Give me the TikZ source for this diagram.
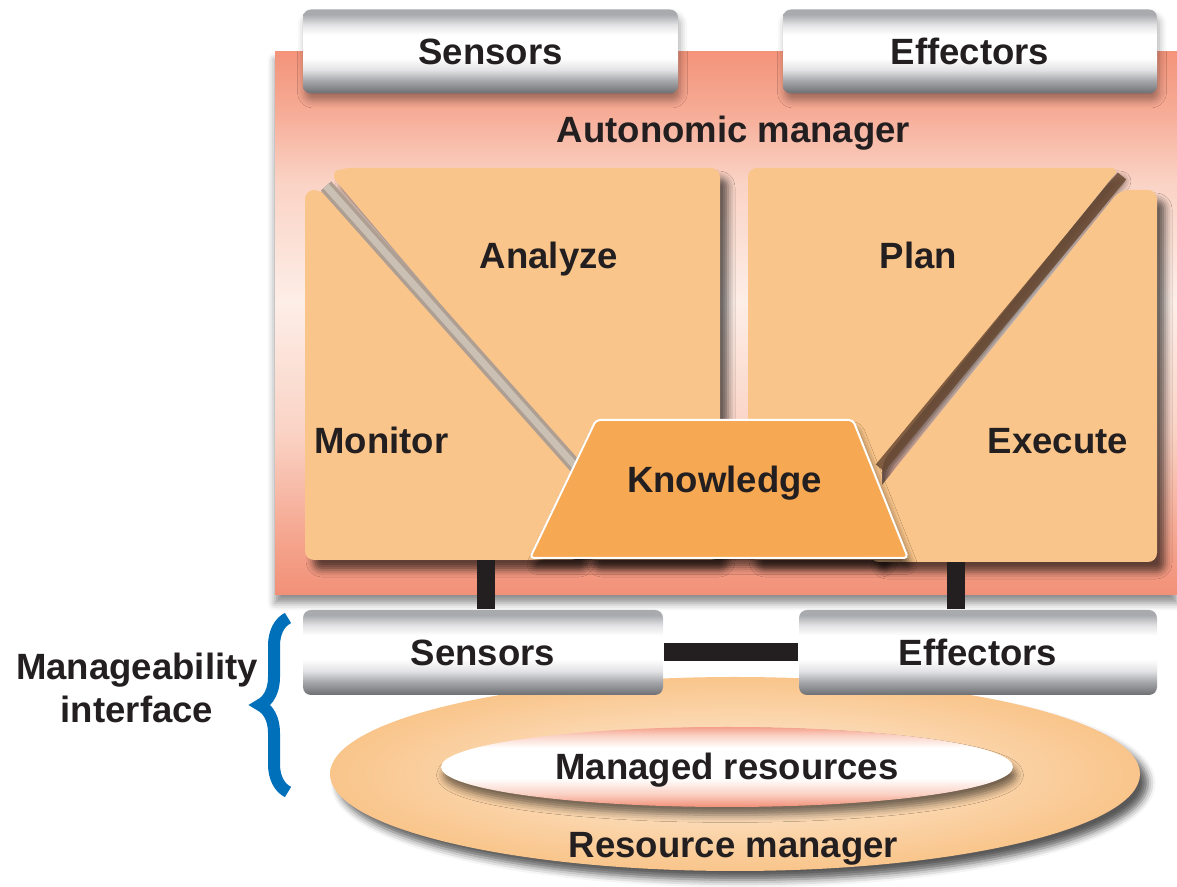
\documentclass[tikz,border=0pt]{standalone}
\usepackage{fontspec}
\setmainfont{Liberation Sans}
\usepackage{color}
\usetikzlibrary{calc,positioning,shadows,shadows.blur,shapes.geometric,decorations.pathreplacing}

\definecolor{ink}{HTML}{231F20}
\definecolor{panel}{HTML}{FAC58A}
\definecolor{knowfill}{HTML}{F6A852}
\definecolor{bandA}{HTML}{AE9F92}
\definecolor{bandB}{HTML}{CBC0B4}
\definecolor{bandC}{HTML}{6B4B34}
\definecolor{ibmblue}{HTML}{0070BA}
\definecolor{ringout}{HTML}{F9C58B}
\definecolor{ringin}{HTML}{FEEDDB}
\definecolor{metalA}{HTML}{E2E2E4}
\definecolor{metalB}{HTML}{A9AAAE}
\definecolor{metalC}{HTML}{8C8D91}
\definecolor{metalD}{HTML}{6D6E72}
\definecolor{salmonT}{HTML}{F4947B}
\definecolor{salmonB}{HTML}{F29078}
\definecolor{amtop}{HTML}{F6A993}
\definecolor{amlow}{HTML}{F5A48D}
\definecolor{ampale}{HTML}{FDEEE7}
\definecolor{amsoft}{HTML}{FAD3C5}
\definecolor{respink}{HTML}{F4A08A}
\definecolor{resmid}{HTML}{FAD0C3}

\newcommand{\amfont}{\fontsize{10.4}{12.2}\selectfont\bfseries}

\pgfdeclareverticalshading{metal}{100bp}{color(0bp)=(metalD); color(25bp)=(metalD); color(29bp)=(metalC); color(33bp)=(metalB); color(39bp)=(metalA); color(46bp)=(white); color(60bp)=(white); color(66bp)=(metalA); color(72bp)=(metalB); color(100bp)=(metalB)}
\pgfdeclareverticalshading{amback}{100bp}{color(0bp)=(salmonB); color(25bp)=(salmonB); color(30bp)=(amlow); color(40bp)=(amsoft); color(52bp)=(ampale); color(63bp)=(amsoft); color(70bp)=(amtop); color(75bp)=(salmonT); color(100bp)=(salmonT)}
\pgfdeclareverticalshading{resshade}{100bp}{color(0bp)=(salmonB); color(25bp)=(salmonB); color(33bp)=(resmid); color(43bp)=(white); color(62bp)=(white); color(70bp)=(resmid); color(75bp)=(respink); color(100bp)=(respink)}

\begin{document}
\begin{tikzpicture}[thick,node distance=4.795cm,
		box node/.style={rectangle,rounded corners=0.08cm,shading=metal,minimum width=3.75cm,minimum height=0.84cm,font=\amfont,text=ink,text height=7.4pt,text depth=0pt},
		text node/.style={font=\amfont,text=ink,inner sep=0pt,text height=7.4pt,text depth=0pt},
		panel fill/.style={fill=panel,rounded corners=0.09cm,blur shadow={shadow xshift=0.08cm,shadow yshift=-0.10cm,shadow blur radius=0.07cm,shadow opacity=60}},
		bar line/.style={-,line width=0.18cm,draw=ink}]
	\useasboundingbox (0,0) rectangle (11.77,-8.87);

	% autonomic manager
	\shade[shading=amback,blur shadow={shadow xshift=0cm,shadow yshift=-0.08cm,shadow opacity=45}] (2.75,-0.52) rectangle (11.77,-5.95);
	\node[box node,blur shadow={shadow xshift=0.02cm,shadow yshift=-0.07cm,shadow opacity=35}] (1) at (4.905,-0.515) {Sensors};
	\node[box node,minimum width=3.74cm,blur shadow={shadow xshift=0.02cm,shadow yshift=-0.07cm,shadow opacity=35}] (2) [right of = 1] {Effectors};
	\node[text node] (3) at (7.335,-1.30) {Autonomic manager};

	% monitor / analyze
	\fill[panel fill] (3.30,-1.74) -- (3.42,-1.68) -- (7.20,-1.68) -- (7.20,-5.60) -- (5.85,-5.60) -- (5.85,-4.74) -- cycle;
	\fill[panel fill] (3.05,-1.90) -- (3.22,-1.90) -- (5.80,-4.80) -- (5.80,-5.60) -- (3.05,-5.60) -- cycle;
	\draw[line width=0.14cm,draw=bandA] (3.26,-1.86) -- (5.84,-4.76);
	\draw[line width=0.07cm,draw=bandB] (3.26,-1.86) -- (5.84,-4.76);

	% plan / execute
	\fill[panel fill] (7.48,-1.68) -- (11.20,-1.68) -- (8.82,-4.62) -- (8.82,-5.60) -- (7.48,-5.60) -- cycle;
	\fill[panel fill] (11.20,-1.90) -- (11.57,-1.90) -- (11.57,-5.62) -- (8.70,-5.62) -- (8.70,-5.00) -- cycle;
	\draw[line width=0.11cm,draw=bandC,opacity=0.85] (11.22,-1.76) -- (8.80,-4.68);

	% knowledge
	\filldraw[fill=knowfill,draw=white,line width=0.02cm,rounded corners=0.04cm,blur shadow={shadow xshift=0.03cm,shadow yshift=-0.09cm,shadow opacity=60}]
		(5.30,-5.58) -- (5.96,-4.20) -- (8.53,-4.20) -- (9.08,-5.58) -- cycle;

	\node[text node] (4) at (3.815,-4.41) {Monitor};
	\node[text node] (5) at (5.49,-2.56) {Analyze};
	\node[text node] (6) at (9.185,-2.56) {Plan};
	\node[text node] (7) at (10.58,-4.41) {Execute};
	\node[text node] (8) at (7.245,-4.80) {Knowledge};

	% managed resources
	\node[ellipse,minimum width=8.10cm,minimum height=1.94cm,inner sep=0pt,inner color=ringin,outer color=ringout,
		blur shadow={shadow xshift=0.08cm,shadow yshift=-0.09cm,shadow opacity=65}] (11) at (7.35,-7.74) {};
	\node[ellipse,minimum width=5.72cm,minimum height=0.80cm,inner sep=0pt,shading=resshade,font=\amfont,text=ink,text height=7.4pt,text depth=0pt,
		blur shadow={shadow xshift=0.03cm,shadow yshift=-0.08cm,shadow opacity=55}] (12) at (7.27,-7.67) {Managed resources};
	\node[text node] (13) at (7.335,-8.45) {Resource manager};

	\node[box node,minimum width=3.60cm,minimum height=0.85cm] (9) at (4.83,-6.525) {Sensors};
	\node[box node,minimum width=3.58cm,minimum height=0.85cm,node distance=4.95cm] (10) [right of = 9] {Effectors};

	\coordinate (m) at (4.86,-5.60);
	\coordinate (e) at (9.56,-5.62);
	\path
	(m) edge[bar line] (m |- 9.north)
	(e) edge[bar line] (e |- 10.north)
	(9) edge[bar line] (10)
;

	% manageability interface
	\coordinate (b1) at (2.88,-7.92);
	\coordinate (b2) at (2.88,-6.18);
	\draw[decorate,decoration={brace,amplitude=0.28cm},line width=0.12cm,draw=ibmblue] (b1) -- (b2);
	\node[font=\amfont,text=ink,align=center,inner sep=0pt] (14) at (1.37,-6.88) {Manageability\\interface};
\end{tikzpicture}
\end{document}
